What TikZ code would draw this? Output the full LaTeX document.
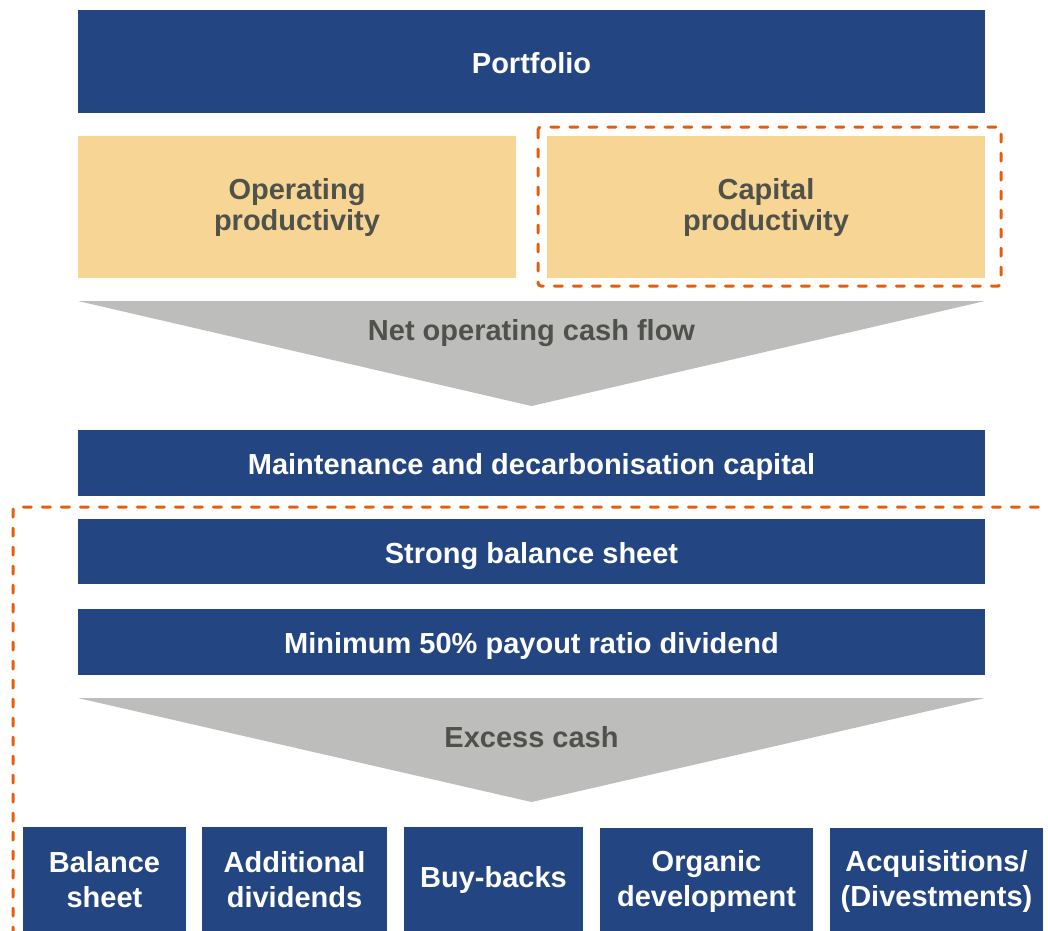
\documentclass[tikz,border=0pt]{standalone}
\usepackage{fontspec}
\setmainfont{Liberation Sans}
\usetikzlibrary{positioning}
\definecolor{navy}{HTML}{234582}
\definecolor{sand}{HTML}{F7D595}
\definecolor{flowgray}{HTML}{BDBDBB}
\definecolor{inkgray}{HTML}{4F524B}
\definecolor{dashorange}{HTML}{E85D0C}
\begin{document}
\begin{tikzpicture}[x=1pt, y=-1pt]
    \tikzstyle{bar} = [fill = navy, text = white, minimum width = 907pt, inner sep = 0pt, outer sep = 0pt, text height = 23pt, text depth = 0pt, font = \fontsize{29}{31}\selectfont\bfseries]
    \tikzstyle{lever} = [fill = sand, text = inkgray, minimum width = 438pt, minimum height = 142pt, inner sep = 0pt, outer sep = 0pt, align = center, font = \fontsize{29}{31}\selectfont\bfseries]
    \tikzstyle{tile} = [fill = navy, text = white, minimum height = 106pt, inner sep = 0pt, outer sep = 0pt, align = center, font = \fontsize{29}{35}\selectfont\bfseries]
    \tikzstyle{flowtext} = [text = inkgray, font = \fontsize{29}{31}\selectfont\bfseries]
    \tikzstyle{focus} = [dashorange, line width = 3pt, line cap = round, dash pattern = on 8pt off 11pt, rounded corners = 3pt]
    \useasboundingbox (0,0) rectangle (1048,930);

    \node[bar, minimum height = 103pt](portfolio) at (531.5,61.5){Portfolio};
    \node[lever](operating) at (297,207){Operating\\productivity};
    \node[lever](capital) at (766,207){Capital\\productivity};

    \fill[flowgray] (78,301) -- (985,301) -- (531.5,406) -- cycle;
    \node[flowtext](cashflow) at (531.5,333){Net operating cash flow};

    \node[bar, minimum height = 66pt](maintenance) at (531.5,463){Maintenance and decarbonisation capital};
    \node[bar, minimum height = 65pt, below = 23pt of maintenance](balance){Strong balance sheet};
    \node[bar, minimum height = 66pt, below = 25pt of balance](dividend){Minimum 50\% payout ratio dividend};

    \fill[flowgray] (78,698) -- (985,698) -- (531.5,802) -- cycle;
    \node[flowtext](excess) at (531.5,737){Excess cash};

    \node[tile, minimum width = 163pt](sheet) at (104.5,880){Balance\\sheet};
    \node[tile, minimum width = 185pt](additional) at (294.5,880){Additional\\dividends};
    \node[tile, minimum width = 179pt](buyback) at (493.5,880){Buy-backs};
    \node[tile, minimum width = 213pt](organic) at (706.5,881){Organic\\development};
    \node[tile, minimum width = 213pt](acquisitions) at (936.5,881){Acquisitions/\\(Divestments)};

    \draw[focus] (538,127) rectangle (1001,286);
    \draw[focus] (13,935) -- (13,507) -- (1052,507);
\end{tikzpicture}
\end{document}
